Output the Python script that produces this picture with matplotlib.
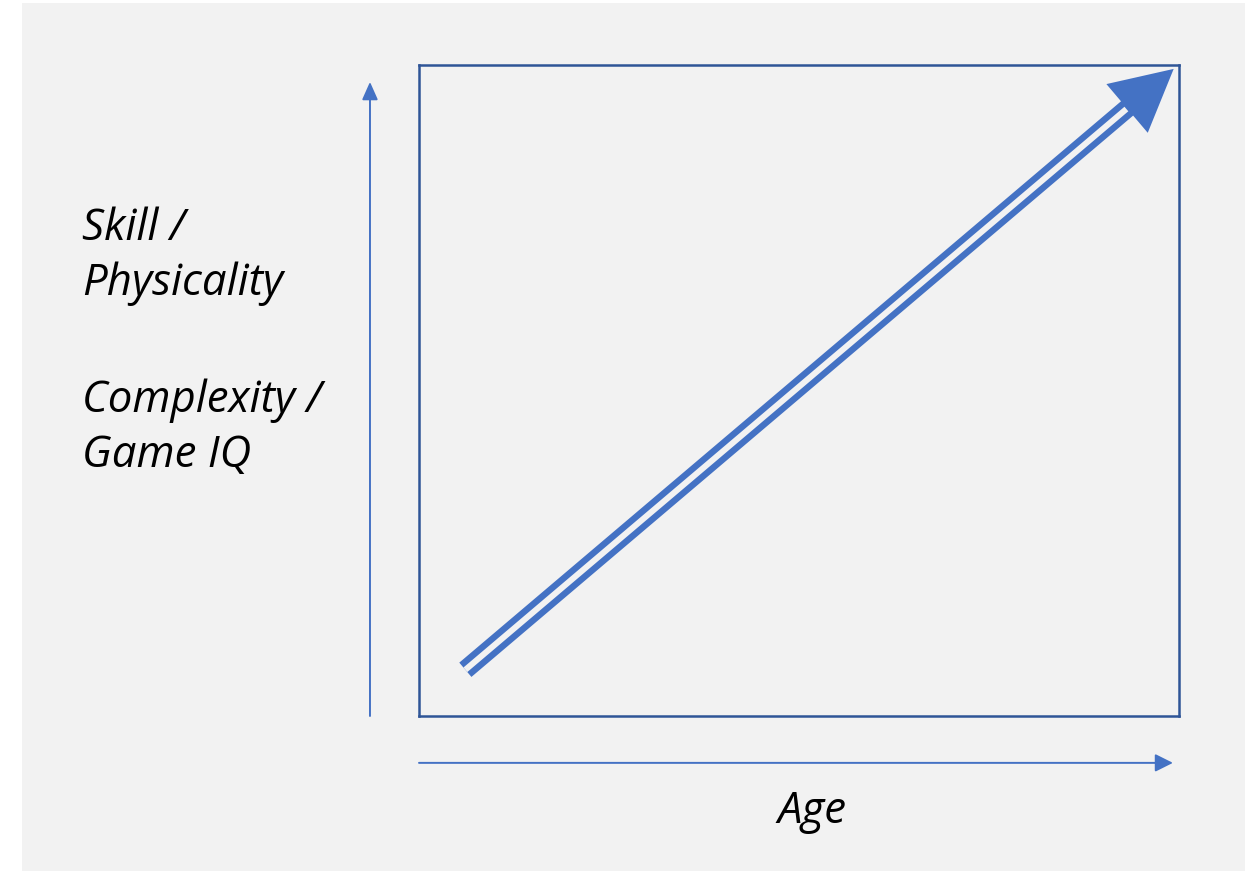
import matplotlib.pyplot as plt

# conceptual diagram: everything rises with age
BLUE = "#4472C4"
DARK = "#2F5597"
BG = "#F2F2F2"

y_labels = ["Skill /", "Physicality", "Complexity /", "Game IQ"]
y_baselines = [240, 295, 412, 467]   # px from top
x_label = "Age"

# trend arrow in box units (0..1 across the framed area)
trend_start = (0.061, 0.071)
trend_end = (0.993, 0.994)

W, H = 1245, 871
fig = plt.figure(figsize=(W / 100, H / 100), dpi=100)
fig.patch.set_facecolor("white")

# grey backdrop panel
bg = fig.add_axes([22 / W, 0, 1 - 22 / W, 1 - 3 / H])
bg.set_facecolor(BG)
bg.set_xticks([])
bg.set_yticks([])
for s in bg.spines.values():
    s.set_visible(False)

# framed box
ax = fig.add_axes([419 / W, 1 - 716 / H, 760 / W, 651 / H])
ax.set_facecolor(BG)
ax.set_xlim(0, 1)
ax.set_ylim(0, 1)
ax.set_xticks([])
ax.set_yticks([])
for s in ax.spines.values():
    s.set_color(DARK)
    s.set_linewidth(1.8)

# double-line trend arrow: fat "simple" arrow, then a grey stripe down the middle
ax.annotate("", xy=trend_end, xytext=trend_start,
            arrowprops=dict(arrowstyle="simple,head_length=44,head_width=46,tail_width=13.5",
                            mutation_scale=1, color=BLUE, lw=0, shrinkA=0, shrinkB=0))
dx = trend_end[0] - trend_start[0]
dy = trend_end[1] - trend_start[1]
# stop the stripe where the head begins (head length in px -> box units)
bw, bh = 760, 651
L = ((dx * bw) ** 2 + (dy * bh) ** 2) ** 0.5
f = 1 - 62 / L
ax.plot([trend_start[0], trend_start[0] + dx * f], [trend_start[1], trend_start[1] + dy * f],
        color=BG, lw=4.3, solid_capstyle="butt", zorder=5)

# axis arrows outside the box
ax.annotate("", xy=(-0.0645, 0.974), xytext=(-0.0645, 0.0), xycoords="axes fraction",
            arrowprops=dict(arrowstyle="-|>,head_length=0.9,head_width=0.4",
                            mutation_scale=12, color=BLUE, lw=1.4, shrinkA=0, shrinkB=0),
            annotation_clip=False)
ax.annotate("", xy=(0.992, -0.072), xytext=(0.0, -0.072), xycoords="axes fraction",
            arrowprops=dict(arrowstyle="-|>,head_length=0.9,head_width=0.45",
                            mutation_scale=12, color=BLUE, lw=1.4, shrinkA=0, shrinkB=0),
            annotation_clip=False)

for lab, yb in zip(y_labels, y_baselines):
    fig.text(82 / W, 1 - yb / H, lab, fontsize=31.5, style="italic",
             family=["Open Sans", "DejaVu Sans"], va="baseline", ha="left", color="black")

fig.text(812 / W, 1 - 823 / H, x_label, fontsize=31.5, style="italic",
         family=["Open Sans", "DejaVu Sans"], va="baseline", ha="center", color="black")

fig.savefig("out.png", dpi=100, facecolor=fig.get_facecolor())
